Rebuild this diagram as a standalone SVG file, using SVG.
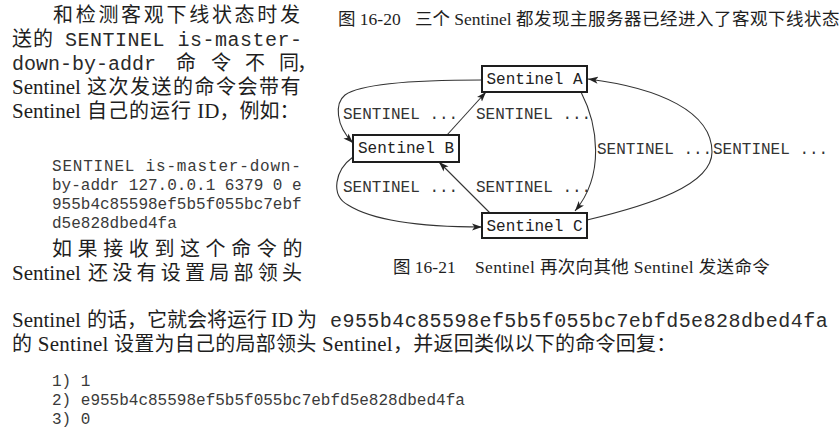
<svg xmlns="http://www.w3.org/2000/svg" width="839" height="432" viewBox="0 0 839 432">
<style>
.p{font-family:"Liberation Serif","Noto Sans CJK SC",serif;font-size:21px;fill:#1e1e1e}
.c{font-family:"Noto Sans CJK SC","Liberation Serif",sans-serif;font-size:20px}
.m{font-family:"Liberation Mono","Noto Sans CJK SC",monospace;font-size:20px;fill:#2a2a2a}
.code{font-family:"Liberation Mono",monospace;font-size:16px;fill:#3a3a3a}
.cap{font-family:"Liberation Serif","Noto Sans CJK SC",serif;font-size:17.5px;fill:#1e1e1e}
.box{fill:#fff;stroke:#1e1e1e;stroke-width:2}
.lbl{font-family:"Liberation Mono",monospace;font-size:16px;fill:#333}
.edge{fill:none;stroke:#333;stroke-width:1.1;marker-end:url(#arr)}
</style>
<defs>
<marker id="arr" markerUnits="userSpaceOnUse" markerWidth="11" markerHeight="8" refX="10" refY="4" orient="auto">
<path d="M0,0.5 L10,4 L0,7.5 L2.5,4 z" fill="#222"/>
</marker>
</defs>
<rect width="839" height="432" fill="#fff"/>

<g id="prose-top">
<text class="p" x="53" y="22"><tspan class="c" style="letter-spacing:2.7px">和检测客观下线状态时发</tspan></text>
<text class="p" y="46"><tspan class="c" x="12" style="letter-spacing:1px">送的</tspan><tspan class="m" x="65" style="letter-spacing:0.5px">SENTINEL is-master-</tspan></text>
<text class="p" y="70"><tspan class="m" x="12">down-by-addr </tspan><tspan class="c" x="176 211 245 279 297">命令不同，</tspan></text>
<text class="p" y="94"><tspan x="12">Sentinel </tspan><tspan class="c" x="87" style="letter-spacing:1.5px">这次发送的命令会带有</tspan></text>
<text class="p" y="118"><tspan x="12">Sentinel </tspan><tspan class="c" x="87" style="letter-spacing:1px">自己的运行</tspan> ID<tspan class="c">，例如：</tspan></text>
</g>

<g id="code-1">
<text class="code" x="52" y="171" style="letter-spacing:0.8px">SENTINEL is-master-down-</text>
<text class="code" x="52" y="190">by-addr 127.0.0.1 6379 0 e</text>
<text class="code" x="52" y="209">955b4c85598ef5b5f055bc7ebf</text>
<text class="code" x="52" y="228">d5e828dbed4fa</text>
</g>

<g id="prose-mid">
<text class="p" x="52" y="256"><tspan class="c" style="letter-spacing:5.6px">如果接收到这个命令的</tspan></text>
<text class="p" y="280"><tspan x="12">Sentinel </tspan><tspan class="c" x="88" style="letter-spacing:4.25px">还没有设置局部领头</tspan></text>
<text class="p" y="327"><tspan x="12">Sentinel </tspan><tspan class="c" x="87">的话，它就会将运行</tspan><tspan x="271">ID </tspan><tspan class="c" x="297">为</tspan><tspan class="m" x="330" style="letter-spacing:0.45px">e955b4c85598ef5b5f055bc7ebfd5e828dbed4fa</tspan></text>
<text class="p" x="12" y="351" style="letter-spacing:0.25px"><tspan class="c">的</tspan> Sentinel <tspan class="c">设置为自己的局部领头</tspan> Sentinel<tspan class="c">，并返回类似以下的命令回复：</tspan></text>
</g>

<g id="code-2">
<text class="code" x="52" y="386">1) 1</text>
<text class="code" x="52" y="405">2) e955b4c85598ef5b5f055bc7ebfd5e828dbed4fa</text>
<text class="code" x="52" y="424">3) 0</text>
</g>

<g id="captions">
<text class="cap" y="25"><tspan x="338">图 16-20</tspan><tspan x="415">三个 Sentinel </tspan><tspan style="letter-spacing:0.5px">都发现主服务器已经进入了客观下线状态</tspan></text>
<text class="cap" y="273"><tspan x="393">图 16-21</tspan><tspan x="475" style="letter-spacing:0.35px">Sentinel 再次向其他 Sentinel 发送命令</tspan></text>
</g>

<g id="connectors">
<path class="edge" d="M482,80 C410,80 360,84 345,95 C335,103 335,125 353,143"/>
<path class="edge" d="M447,135 L486,92"/>
<path class="edge" d="M581,92 C598,125 605,175 575,211"/>
<path class="edge" d="M587,220 C650,205 712,185 712,152 C712,112 660,88 588,79"/>
<path class="edge" d="M353,157 C335,170 330,195 348,205 C375,222 430,227 482,227"/>
<path class="edge" d="M490,213 L439,162"/>
<text class="lbl" x="343" y="119">SENTINEL ...</text>
<text class="lbl" x="476" y="119">SENTINEL ...</text>
<text class="lbl" x="597" y="154">SENTINEL ...</text>
<text class="lbl" x="713" y="154">SENTINEL ...</text>
<text class="lbl" x="343" y="192">SENTINEL ...</text>
<text class="lbl" x="476" y="192">SENTINEL ...</text>
</g>

<g id="sentinel-a">
<rect class="box" x="482" y="66" width="105" height="26"/>
<text class="lbl" x="534.5" y="84" text-anchor="middle" style="fill:#222">Sentinel A</text>
</g>
<g id="sentinel-b">
<rect class="box" x="353" y="135" width="106" height="27"/>
<text class="lbl" x="406" y="153" text-anchor="middle" style="fill:#222">Sentinel B</text>
</g>
<g id="sentinel-c">
<rect class="box" x="482" y="213" width="105" height="25"/>
<text class="lbl" x="534.5" y="230.5" text-anchor="middle" style="fill:#222">Sentinel C</text>
</g>
</svg>
